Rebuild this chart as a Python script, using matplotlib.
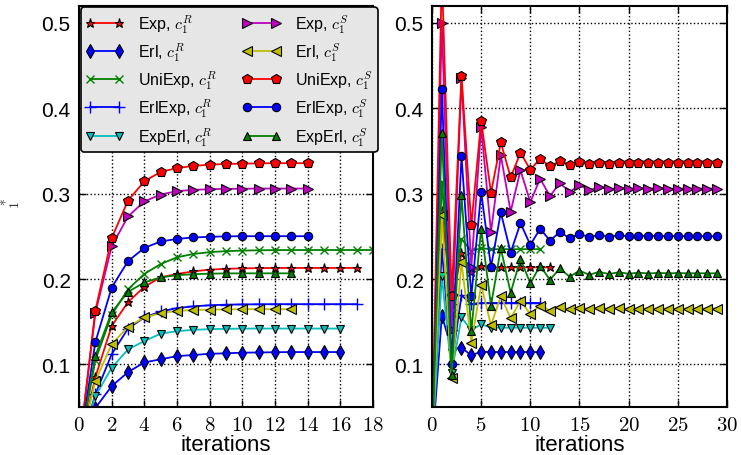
import matplotlib
matplotlib.use("Agg")
import matplotlib.pyplot as plt
import numpy as np

plt.rcParams['font.family'] = ['Liberation Sans', 'DejaVu Sans']
plt.rcParams['mathtext.fontset'] = 'cm'

# ---- data: left panel (monotone iterations) ----
L_exp_R = [0, 0.085, 0.145, 0.173, 0.191, 0.202, 0.206, 0.209, 0.211, 0.212, 0.2125, 0.2128, 0.213, 0.213, 0.213, 0.213, 0.213, 0.213]
L_erl_R = [0, 0.049, 0.0745, 0.091, 0.1024, 0.106, 0.1098, 0.111, 0.1125, 0.113, 0.1138, 0.114, 0.1143, 0.1145, 0.1145, 0.1145, 0.1145]
L_uni_R = [0, 0.105, 0.158, 0.188, 0.206, 0.2176, 0.2255, 0.2294, 0.2315, 0.2327, 0.2333, 0.2337, 0.2339, 0.234, 0.234, 0.234, 0.234, 0.234, 0.234]
L_erlexp_R = [0, 0.065, 0.112, 0.142, 0.155, 0.162, 0.166, 0.168, 0.1693, 0.17, 0.1703, 0.1705, 0.1706, 0.1706, 0.1706, 0.1706, 0.1706, 0.1706]
L_experl_R = [0, 0.0627, 0.096, 0.1176, 0.1274, 0.136, 0.139, 0.1405, 0.1413, 0.1417, 0.142, 0.142, 0.142, 0.142, 0.142, 0.142, 0.142]
L_exp_S = [0, 0.16, 0.2384, 0.2733, 0.291, 0.299, 0.303, 0.3045, 0.3052, 0.3056, 0.3058, 0.306, 0.306, 0.306, 0.306]
L_erl_S = [0, 0.0804, 0.1235, 0.1443, 0.155, 0.16, 0.1627, 0.1637, 0.1642, 0.1645, 0.1647, 0.1647, 0.1647, 0.1647]
L_uni_S = [0, 0.163, 0.248, 0.292, 0.3145, 0.3255, 0.33, 0.3325, 0.334, 0.3348, 0.3352, 0.3355, 0.3357, 0.3357, 0.3357]
L_erlexp_S = [0, 0.126, 0.19, 0.221, 0.2365, 0.244, 0.247, 0.2487, 0.2495, 0.25, 0.2502, 0.2502, 0.2502, 0.2502, 0.2502]
L_experl_S = [0, 0.11, 0.161, 0.185, 0.196, 0.202, 0.2045, 0.2057, 0.2063, 0.2066, 0.2067, 0.2067, 0.2067, 0.2067]

# ---- data: right panel (oscillating iterations) ----
R_exp_R = [0, 0.28, 0.17, 0.2306, 0.208, 0.2157, 0.2137, 0.2137, 0.2137, 0.2137, 0.2137, 0.2137, 0.2137]
R_erl_R = [0, 0.157, 0.118, 0.1196, 0.1106, 0.115, 0.1145, 0.1145, 0.1145, 0.1145, 0.1145, 0.1145]
R_uni_R = [0, 0.314, 0.16, 0.247, 0.233, 0.236, 0.235, 0.235, 0.235, 0.235, 0.235, 0.235]
R_erlexp_R = [0, 0.235, 0.10, 0.181, 0.1706, 0.172, 0.172, 0.172, 0.172, 0.172, 0.172, 0.172]
R_experl_R = [0, 0.2035, 0.09, 0.155, 0.14, 0.147, 0.143, 0.143, 0.143, 0.143, 0.143, 0.143, 0.143]
R_exp_S = [0, 0.50, 0.14, 0.435, 0.214, 0.378, 0.255, 0.345, 0.279, 0.3275, 0.29, 0.3176, 0.297, 0.3126, 0.302, 0.31,
           0.304, 0.308, 0.305, 0.307, 0.3055, 0.3065, 0.306, 0.3063, 0.306, 0.306, 0.306, 0.306, 0.306, 0.306]
R_erl_S = [0, 0.2745, 0.084, 0.22, 0.1255, 0.193, 0.146, 0.18, 0.154, 0.1745, 0.159, 0.169, 0.163, 0.167, 0.1645, 0.1662,
           0.165, 0.1658, 0.1652, 0.1656, 0.1653, 0.1655, 0.1654, 0.1655, 0.1654, 0.1655, 0.1655, 0.1655, 0.1655, 0.1655]
R_uni_S = [0, 0.56, 0.18, 0.438, 0.263, 0.3855, 0.301, 0.36, 0.319, 0.348, 0.328, 0.341, 0.332, 0.338, 0.334, 0.337,
           0.335, 0.3365, 0.3352, 0.336, 0.3355, 0.336, 0.3357, 0.336, 0.3357, 0.336, 0.3357, 0.336, 0.3357, 0.3357]
R_erlexp_S = [0, 0.4224, 0.10, 0.344, 0.18, 0.302, 0.214, 0.278, 0.231, 0.2655, 0.24, 0.259, 0.245, 0.255, 0.248, 0.253,
              0.249, 0.252, 0.2495, 0.2512, 0.25, 0.251, 0.2502, 0.2508, 0.2502, 0.2505, 0.2502, 0.2502, 0.2502, 0.2502]
R_experl_S = [0, 0.3706, 0.088, 0.298, 0.139, 0.259, 0.169, 0.236, 0.184, 0.2235, 0.195, 0.2157, 0.199, 0.2126, 0.2027, 0.2098,
              0.205, 0.2085, 0.2058, 0.208, 0.2062, 0.2075, 0.2065, 0.2072, 0.2067, 0.207, 0.2067, 0.2068, 0.2067, 0.2067]

labels = [r'Exp, $c_1^R$', r'Erl, $c_1^R$', r'UniExp, $c_1^R$', r'ErlExp, $c_1^R$', r'ExpErl, $c_1^R$',
          r'Exp, $c_1^S$', r'Erl, $c_1^S$', r'UniExp, $c_1^S$', r'ErlExp, $c_1^S$', r'ExpErl, $c_1^S$']
left_series = [L_exp_R, L_erl_R, L_uni_R, L_erlexp_R, L_experl_R, L_exp_S, L_erl_S, L_uni_S, L_erlexp_S, L_experl_S]
right_series = [R_exp_R, R_erl_R, R_uni_R, R_erlexp_R, R_experl_R, R_exp_S, R_erl_S, R_uni_S, R_erlexp_S, R_experl_S]

styles = [
    dict(color='red', marker='*', ms=6.5),
    dict(color='blue', marker='d', ms=7),
    dict(color=(0, 0.5, 0), marker='x', ms=6, mew=1.0),
    dict(color='blue', marker='+', ms=8, mew=1.0),
    dict(color=(0, 0.75, 0.75), marker='v', ms=6),
    dict(color=(0.75, 0, 0.75), marker='>', ms=7),
    dict(color=(0.75, 0.75, 0), marker='<', ms=7),
    dict(color='red', marker='p', ms=7),
    dict(color='blue', marker='o', ms=6),
    dict(color=(0, 0.5, 0), marker='^', ms=6),
]

fig = plt.figure(figsize=(7.41, 4.56), dpi=100)
ax1 = fig.add_axes([0.1066, 0.105, 0.397, 0.88])
ax2 = fig.add_axes([0.583, 0.105, 0.398, 0.88])

handles = []
for ax, series in ((ax1, left_series), (ax2, right_series)):
    for data, st in zip(series, styles):
        kw = dict(st)
        ms = kw.pop('ms'); mew = kw.pop('mew', 0.8)
        c = kw['color']
        mec = c if kw['marker'] in ('x', '+') else 'black'
        h, = ax.plot(np.arange(len(data)), data, lw=1.3, ms=ms, mew=mew, mfc=c, mec=mec, **kw)
        if ax is ax1:
            handles.append(h)

for ax, xmax, xstep in ((ax1, 18, 2), (ax2, 30, 5)):
    ax.set_xlim(0, xmax)
    ax.set_ylim(0.05, 0.52)
    xt = np.arange(0, xmax + 1, xstep)
    ax.set_xticks(xt)
    ax.set_xticklabels([r'$%d$' % v for v in xt])
    yt = [0.1, 0.2, 0.3, 0.4, 0.5]
    ax.set_yticks(yt)
    ax.set_yticklabels(['%.1f' % v for v in yt])
    ax.tick_params(direction='in', top=True, right=True, labelsize=15, length=5, width=1, pad=6)
    ax.grid(True, color='black', linestyle=':', linewidth=1)
    ax.set_xlabel('iterations', fontsize=16, labelpad=0)
    for s in ax.spines.values():
        s.set_linewidth(1.5)

ax1.set_ylabel(r'${}_1^*$', fontsize=14, color='#333333')
ax1.yaxis.set_label_coords(-0.19, 0.51)

leg = ax1.legend(handles, labels, loc='upper left', ncol=2, fontsize=11.5, numpoints=2,
                 handlelength=2.4, handletextpad=0.9, labelspacing=0.36, columnspacing=1.6,
                 borderaxespad=0.1, borderpad=0.3,
                 fancybox=True, framealpha=1.0, facecolor='#e6e6e6', edgecolor='black')
leg.get_frame().set_linewidth(1.2)

fig.savefig('out.png', dpi=100)
